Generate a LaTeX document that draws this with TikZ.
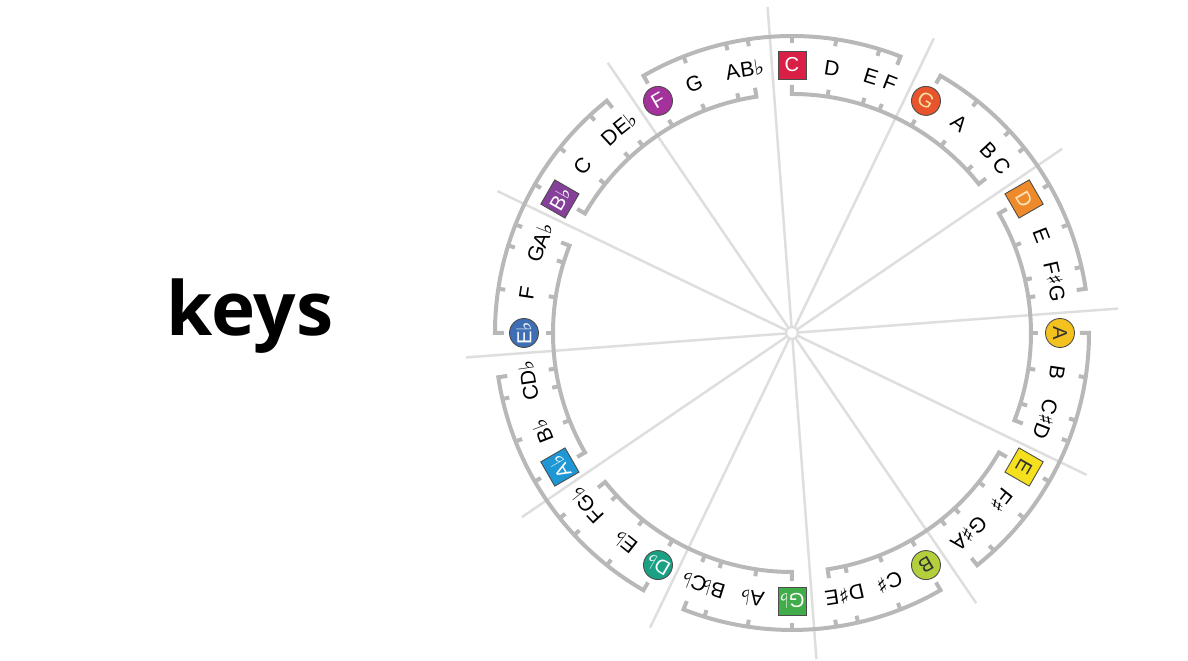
\documentclass[tikz,border=0pt]{standalone}
\usepackage{fontspec}
\setmainfont{Liberation Sans}
\newfontfamily\titrefont{Open Sans}
\newfontfamily\symfont{DejaVu Sans}
\usepackage{tikz}
\definecolor{cleC}{RGB}{217,31,69}
\definecolor{cleG}{RGB}{232,84,44}
\definecolor{cleD}{RGB}{238,138,42}
\definecolor{cleA}{RGB}{243,194,31}
\definecolor{cleE}{RGB}{244,224,28}
\definecolor{cleB}{RGB}{179,207,60}
\definecolor{cleGb}{RGB}{65,173,74}
\definecolor{cleDb}{RGB}{26,161,132}
\definecolor{cleAb}{RGB}{31,151,212}
\definecolor{cleEb}{RGB}{62,110,179}
\definecolor{cleBb}{RGB}{134,64,154}
\definecolor{cleF}{RGB}{165,49,156}
\definecolor{cleGt}{RGB}{250,225,160}
\definecolor{cleDt}{RGB}{253,228,190}
\definecolor{grisA}{RGB}{184,184,184}
\definecolor{grisB}{RGB}{222,222,222}
\newcommand{\flt}{{\symfont ♭}}
\newcommand{\shp}{{\symfont ♯}}
\tikzset{
  note/.style={font=\fontsize{12}{12}\selectfont, inner sep=0pt},
  keysq/.style={rectangle, draw=black!70, line width=0.5pt, fill=#1, minimum size=0.56cm,
                inner sep=0pt, font=\fontsize{11.5}{11.5}\selectfont},
  keyci/.style={circle, draw=black!70, line width=0.5pt, fill=#1, minimum size=0.58cm,
                inner sep=0pt, font=\fontsize{11.5}{11.5}\selectfont},
  brack/.style={draw=grisA, line width=0.08cm},
  spoke/.style={draw=grisB, line width=0.05cm},
}
\begin{document}
\begin{tikzpicture}[x=0.02cm, y=0.02cm]
  \useasboundingbox (-792,-328) rectangle (396,333);
  \foreach \k in {0,...,11} {
    \pgfmathsetmacro{\sa}{90-30*\k+30/7}
    \draw[spoke] (\sa:6) -- (\sa:327);
  }
  \draw[spoke] (0,0) circle[radius=6];
  \foreach \i/\ta/\tb/\tc/\td/\col/\tcol/\form in {
      0/C/D/E/F/cleC/white/keysq,
      1/G/A/B/C/cleG/cleGt/keyci,
      2/D/E/F\shp/G/cleD/cleDt/keysq,
      3/A/B/C\shp/D/cleA/black!80/keyci,
      4/E/F\shp/G\shp/A/cleE/black!80/keysq,
      5/B/C\shp/D\shp/E/cleB/black!80/keyci,
      6/G\flt/A\flt/B\flt/C\flt/cleGb/white/keysq,
      7/D\flt/E\flt/F/G\flt/cleDb/white/keyci,
      8/A\flt/B\flt/C/D\flt/cleAb/white/keysq,
      9/E\flt/F/G/A\flt/cleEb/white/keyci,
      10/B\flt/C/D/E\flt/cleBb/white/keysq,
      11/F/G/A/B\flt/cleF/white/keyci} {
    \pgfmathsetmacro{\ang}{90-30*\i}
    \pgfmathsetmacro{\fin}{\ang-360/7}
    \pgfmathsetmacro{\rad}{isodd(\i) ? 297 : 239}
    \pgfmathsetmacro{\rend}{isodd(\i) ? 288 : 248}
    \pgfmathsetmacro{\rtic}{isodd(\i) ? 290 : 246}
    \draw[brack] (\ang:\rend) -- (\ang:\rad) arc[start angle=\ang, end angle=\fin, radius=\rad]
      -- (\fin:\rend);
    \foreach \st in {2,4,5,7,9,11} {
      \pgfmathsetmacro{\tang}{\ang-\st*30/7}
      \draw[brack] (\tang:\rad) -- (\tang:\rtic);
    }
    \pgfmathsetmacro{\rot}{\ang-90}
    \node[\form=\col, text=\tcol, rotate=\rot] (k\i) at (\ang:268) {\ta};
    \pgfmathsetmacro{\nb}{\ang-60/7}
    \pgfmathsetmacro{\nc}{\ang-120/7}
    \pgfmathsetmacro{\nd}{\ang-150/7}
    \pgfmathsetmacro{\rb}{\nb-90}
    \pgfmathsetmacro{\rc}{\nc-90}
    \pgfmathsetmacro{\rd}{\nd-90}
    \node[note, rotate=\rb] (n\i-2) at (\nb:268) {\tb};
    \node[note, rotate=\rc] (n\i-3) at (\nc:268) {\tc};
    \node[note, rotate=\rd] (n\i-4) at (\nd:268) {\td};
  }
  \node[font=\titrefont\bfseries\fontsize{42.5}{42.5}\selectfont, anchor=base] (titre) at (-542,-3) {keys};
\end{tikzpicture}
\end{document}
